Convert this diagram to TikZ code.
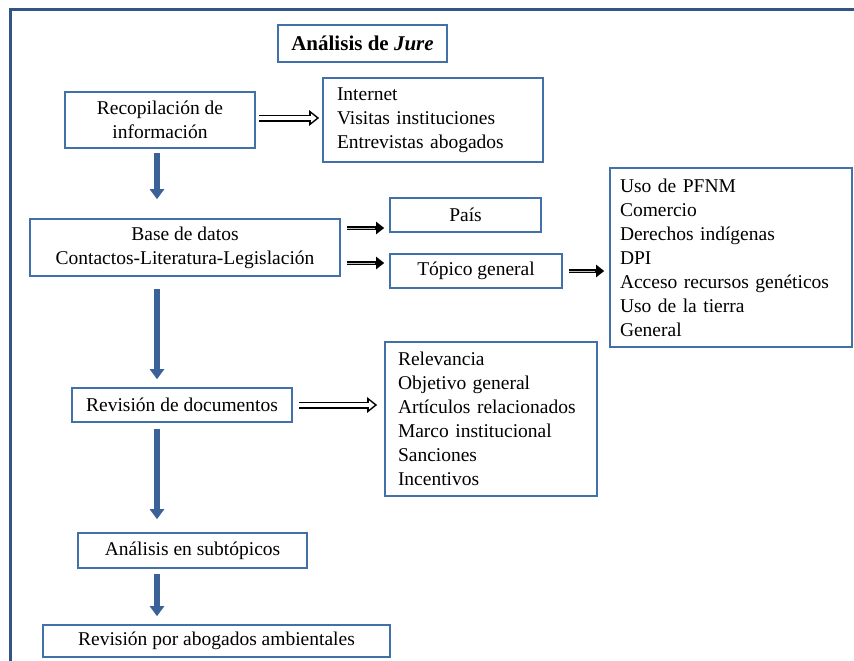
\documentclass[tikz,border=0pt]{standalone}
\usepackage{fontspec}
\setmainfont{Liberation Serif}
\usetikzlibrary{arrows.meta,calc}
\definecolor{boxblue}{RGB}{65,113,168}
\definecolor{arrblue}{RGB}{58,98,152}
\definecolor{frameblue}{RGB}{52,84,136}
\tikzset{
  box/.style={draw=boxblue, line width=1.6pt, inner sep=0pt, align=center,
    font=\fontsize{19.5}{24}\selectfont},
  listbox/.style={box, align=left},
  bluearrow/.style={draw=arrblue, line width=5.5pt, -{Triangle[length=10pt,width=14pt]}},
  dblarrow/.style={draw=black, line width=7pt, -{Triangle[length=10pt,width=15pt]},
    postaction={draw=white, line width=3.2pt, shorten >=2.6pt,
      -{Triangle[length=5.5pt,width=8.5pt]}}},
  thickarrow/.style={draw=black, line width=4.6pt, -{Triangle[length=8pt,width=12pt]},
    postaction={draw=gray!50, line width=0.6pt, shorten >=9pt, -}},
}
\begin{document}
\begin{tikzpicture}[x=1pt,y=1pt]
\useasboundingbox (0,0) rectangle (854,-661);
\fill[white] (0,0) rectangle (854,-661);
\draw[frameblue, line width=3pt] (10,-661) -- (10,-10) -- (854,-10);

\node[box, minimum width=169, minimum height=37, font=\fontsize{21}{24}\selectfont\bfseries]
  (title) at (362.5,-43.5) {Análisis de \textit{Jure}};

\node[box, minimum width=190, minimum height=56] (recop) at (160,-120)
  {Recopilación de\\información};
\node[listbox, minimum width=220, minimum height=84, text width=192] (inet) at (433,-120)
  {Internet\\Visitas instituciones\\Entrevistas abogados};

\node[box, minimum width=310, minimum height=57] (base) at (185,-247.5)
  {Base de datos\\Contactos-Literatura-Legislación};
\node[box, minimum width=151, minimum height=34] (pais) at (465.5,-215) {País};
\node[box, minimum width=172, minimum height=34] (topico) at (476,-271) {Tópico general};
\node[listbox, minimum width=242, minimum height=179, text width=222] (temas) at (731,-257.5)
  {Uso de PFNM\\Comercio\\Derechos indígenas\\DPI\\Acceso recursos genéticos\\Uso de la tierra\\General};

\node[box, minimum width=220, minimum height=34] (revdoc) at (182,-405) {Revisión de documentos};
\node[listbox, minimum width=212, minimum height=154, text width=186] (relev) at (491,-419)
  {Relevancia\\Objetivo general\\Artículos relacionados\\Marco institucional\\Sanciones\\Incentivos};

\node[box, minimum width=229, minimum height=35] (anal) at (192.5,-550.5) {Análisis en subtópicos};
\node[box, minimum width=347, minimum height=32] (revab) at (216.5,-641) {Revisión por abogados ambientales};

\coordinate (ax) at (157,0);

% blue vertical arrows
\draw[bluearrow, shorten <=4pt, shorten >=19pt] (recop.south -| ax) -- (base.north -| ax);
\draw[bluearrow, shorten <=12pt, shorten >=8pt] (base.south -| ax) -- (revdoc.north -| ax);
\draw[bluearrow, shorten <=6pt, shorten >=13pt] (revdoc.south -| ax) -- (anal.north -| ax);
\draw[bluearrow, shorten <=5pt, shorten >=8pt] (anal.south -| ax) -- (revab.north -| ax);

% outlined arrows
\draw[dblarrow] ([xshift=3pt,yshift=2pt]recop.east) -- ([xshift=-3pt,yshift=2pt]recop.east -| inet.west);
\draw[thickarrow] ([xshift=6pt,yshift=19.5pt]base.east) -- ([xshift=-5pt,yshift=19.5pt]base.east -| pais.west);
\draw[thickarrow] ([xshift=6pt,yshift=-15.5pt]base.east) -- ([xshift=-5pt,yshift=-15.5pt]base.east -| topico.west);
\draw[thickarrow] ([xshift=6pt]topico.east) -- ([xshift=-5pt]topico.east -| temas.west);
\draw[dblarrow] ([xshift=6pt]revdoc.east) -- ([xshift=-7pt]revdoc.east -| relev.west);
\end{tikzpicture}
\end{document}
